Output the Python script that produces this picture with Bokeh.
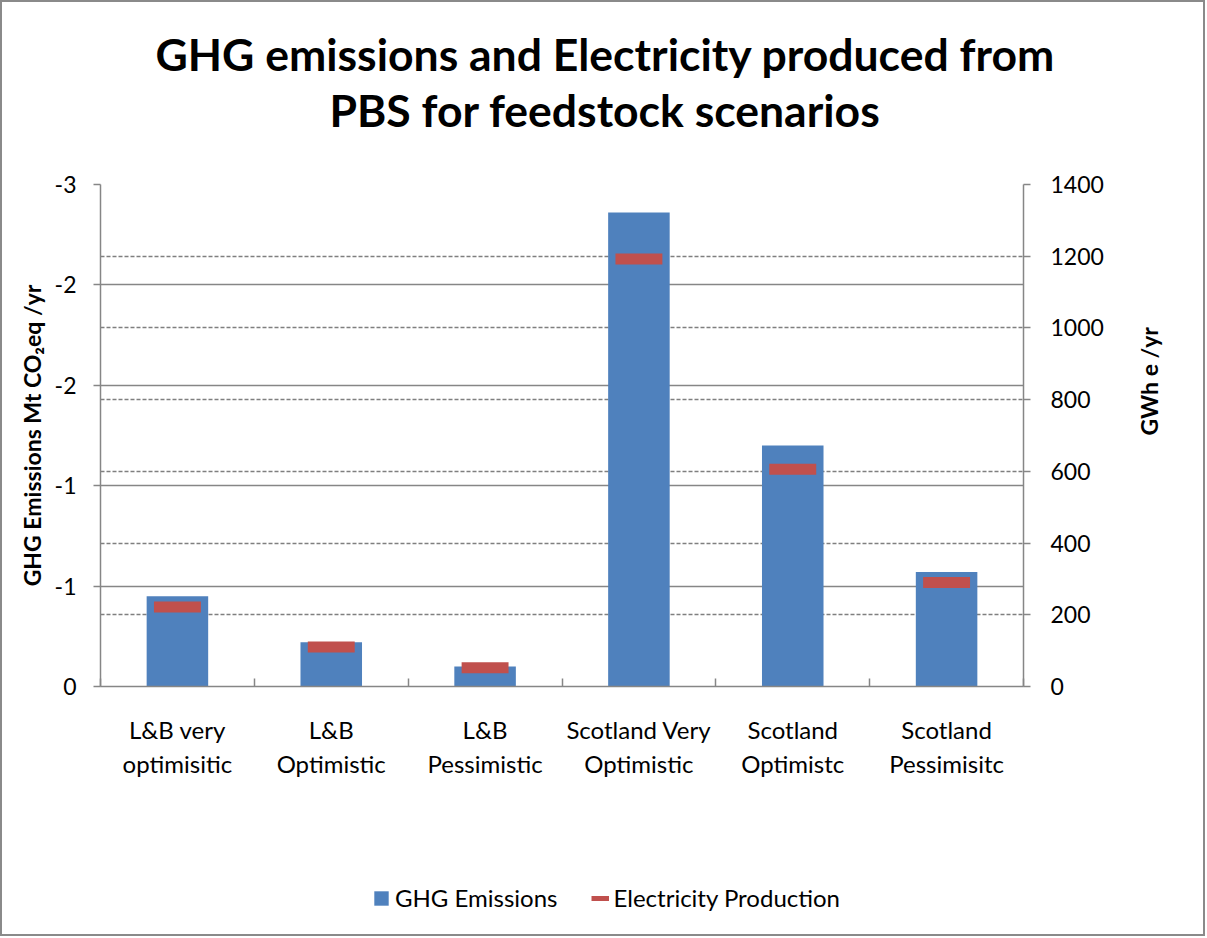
import math
from bokeh.plotting import figure
from bokeh.layouts import column
from bokeh.models import (Range1d, LinearAxis, FixedTicker, Grid, Legend, LegendItem,
                          Title, ColumnDataSource)
from bokeh.embed import file_html
from bokeh.resources import INLINE

# ---------------- data ----------------
categories = ["L&B very optimisitic", "L&B Optimistic", "L&B Pessimistic",
              "Scotland Very Optimistic", "Scotland Optimistc", "Scotland Pessimisitc"]
category_labels = ["L&B very\noptimisitic", "L&B\nOptimistic", "L&B\nPessimistic",
                   "Scotland Very\nOptimistic", "Scotland\nOptimistc", "Scotland\nPessimisitc"]
ghg_emissions = [-0.45, -0.22, -0.10, -2.36, -1.20, -0.57]          # Mt CO2eq / yr
electricity_production = [222, 110, 52, 1192, 606, 290]             # GWh e / yr
left_ticks = [0.0, -0.5, -1.0, -1.5, -2.0, -2.5]
left_tick_labels = ["0", "-1", "-1", "-2", "-2", "-3"]
right_ticks = [0, 200, 400, 600, 800, 1000, 1200, 1400]
title_lines = ["GHG emissions and Electricity produced from", "PBS for feedstock scenarios"]
left_axis_title = "GHG Emissions Mt CO\u2082eq /yr"
right_axis_title = "GWh e /yr"
series_names = ["GHG Emissions", "Electricity Production"]

# ---------------- style ----------------
FONT = "Lato"
GRAY = "#868686"
BLUE = "#4F81BD"
RED = "#C0504D"
BLACK = "#000000"
W = 1201
H_MAIN, H_LEG = 784, 148
FL, FR, FT, FB = 98, 1021, 182, 684   # frame edges in figure pixels

x_pos = [i + 0.5 for i in range(len(categories))]
source = ColumnDataSource(dict(x=x_pos, category=categories,
                               ghg=ghg_emissions, elec=electricity_production))

p = figure(width=W, height=H_MAIN, output_backend="svg", toolbar_location=None,
           x_range=Range1d(0, len(categories)),
           y_range=Range1d(left_ticks[0], left_ticks[-1]),
           x_axis_location=None, y_axis_location=None,
           min_border_left=FL, min_border_right=W - FR,
           min_border_top=FT, min_border_bottom=H_MAIN - FB)
p.extra_y_ranges = {"right": Range1d(right_ticks[0], right_ticks[-1])}
p.outline_line_color = None
p.xgrid.visible = False
p.ygrid.visible = False


def spacer_axis(size, **kw):
    """An axis that draws nothing and only reserves `size` pixels in a side panel."""
    mid = len(categories) / 2
    return LinearAxis(ticker=FixedTicker(ticks=[mid]), major_label_overrides={mid: ""},
                      major_label_text_font_size="1px", major_label_standoff=0,
                      major_tick_out=size, major_tick_in=0, minor_tick_out=0, minor_tick_in=0,
                      axis_line_color=None, major_tick_line_color=None,
                      minor_tick_line_color=None, **kw)


# gridlines: dashed for right axis, solid for left axis
p.add_layout(Grid(dimension=1, ticker=FixedTicker(ticks=right_ticks), y_range_name="right",
                  grid_line_color="#7f7f7f", grid_line_width=1.3, grid_line_dash="4 2"))
p.add_layout(Grid(dimension=1, ticker=FixedTicker(ticks=left_ticks),
                  grid_line_color=GRAY, grid_line_width=1.5))

# axes
left_axis = LinearAxis(
    ticker=FixedTicker(ticks=left_ticks),
    major_label_overrides=dict(zip(left_ticks, left_tick_labels)),
    axis_label=left_axis_title, axis_label_text_font=FONT,
    axis_label_text_font_style="bold", axis_label_text_font_size="23px",
    axis_label_standoff=6, axis_label_text_color=BLACK,
    major_label_text_font=FONT, major_label_text_font_size="23px", major_label_text_color=BLACK,
    major_label_standoff=17, major_tick_out=7, major_tick_in=0,
    minor_tick_line_color=None, axis_line_color=GRAY, axis_line_width=1.5,
    major_tick_line_color=GRAY, major_tick_line_width=1.5)
p.add_layout(left_axis, "left")

right_axis = LinearAxis(
    y_range_name="right", ticker=FixedTicker(ticks=right_ticks),
    axis_label=right_axis_title, axis_label_standoff=42,
    axis_label_orientation=math.pi / 2,
    axis_label_text_font=FONT, axis_label_text_font_style="bold",
    axis_label_text_font_size="23px", axis_label_text_color=BLACK,
    major_label_text_font=FONT, major_label_text_font_size="23px", major_label_text_color=BLACK,
    major_label_standoff=20, major_tick_out=7, major_tick_in=0,
    minor_tick_line_color=None, axis_line_color=GRAY, axis_line_width=1.5,
    major_tick_line_color=GRAY, major_tick_line_width=1.5)
p.add_layout(right_axis, "right")

bottom_axis = LinearAxis(
    ticker=FixedTicker(ticks=x_pos, minor_ticks=list(range(len(categories) + 1))),
    major_label_overrides=dict(zip(x_pos, category_labels)),
    major_tick_line_color=None, major_tick_in=0, major_tick_out=0,
    minor_tick_in=8, minor_tick_out=0, minor_tick_line_color=GRAY, minor_tick_line_width=1.5,
    axis_line_color=GRAY, axis_line_width=1.5,
    major_label_text_font=FONT, major_label_text_font_size="24px", major_label_text_color=BLACK,
    major_label_standoff=28)
p.add_layout(bottom_axis, "below")

# glyphs
p.vbar(x="x", top="ghg", bottom=0, width=0.4, source=source,
       fill_color=BLUE, line_color=None)
p.rect(x="x", y="elec", width=0.305, height=11, height_units="screen",
       y_range_name="right", source=source, fill_color=RED, line_color=None)

# two-line title: spacer nearest the frame, then line 2, then line 1
p.add_layout(spacer_axis(47), "above")
for text, off in zip(reversed(title_lines), [229, 55]):
    p.add_layout(Title(text=text, align="left", offset=off, vertical_align="middle",
                       standoff=1, text_font=FONT, text_font_style="bold",
                       text_font_size="44.5px", text_color=BLACK), "above")

# ---------------- legend strip below the chart ----------------
leg = figure(width=W, height=H_LEG, output_backend="svg", toolbar_location=None,
             x_axis_location=None, y_axis_location=None, min_border=0)
leg.outline_line_color = None
leg.xgrid.visible = False
leg.ygrid.visible = False
leg_bar = leg.vbar(x="x", top="ghg", bottom=0, width=0.4, source=source,
                   fill_color=BLUE, line_color=None, visible=False)
leg_line = leg.line(x="x", y="elec", source=source, line_color=RED, line_width=5, visible=False)
legend = Legend(items=[LegendItem(label=series_names[0], renderers=[leg_bar]),
                       LegendItem(label=series_names[1], renderers=[leg_line])],
                orientation="horizontal", location=(272, 22),
                glyph_width=18, glyph_height=18, label_standoff=5, spacing=33,
                padding=0, margin=0, border_line_color=None, background_fill_alpha=0,
                label_text_font=FONT, label_text_font_size="24px", label_text_color=BLACK)
leg.add_layout(legend, "center")

layout = column(p, leg, spacing=0, styles={"border": "2px solid #8a8a8a"})

open("out.html", "w").write(file_html(layout, INLINE))
